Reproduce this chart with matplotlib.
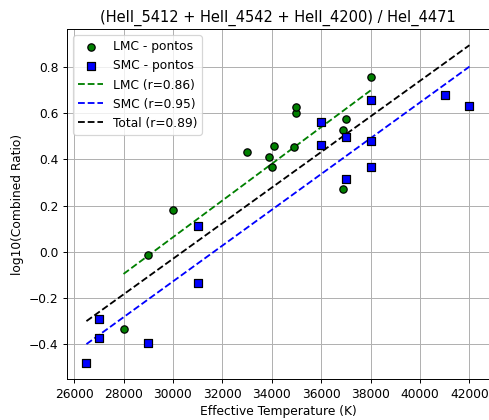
import matplotlib
matplotlib.use("Agg")
import matplotlib.pyplot as plt
import numpy as np

# LMC points (Teff, log10 ratio)
lmc_teff = [28000, 29000, 30000, 33000, 33900, 34000, 34100, 34900, 35000, 35000,
            36900, 36900, 37000, 38000]
lmc_ratio = [-0.336, -0.015, 0.182, 0.433, 0.410, 0.366, 0.460, 0.453, 0.600, 0.626,
             0.271, 0.528, 0.576, 0.755]

# SMC points
smc_teff = [26500, 27000, 27000, 29000, 31000, 31000, 36000, 36000, 37000, 37000,
            38000, 38000, 38000, 41000, 42000]
smc_ratio = [-0.482, -0.375, -0.290, -0.397, 0.111, -0.137, 0.563, 0.461, 0.495, 0.314,
             0.659, 0.480, 0.366, 0.677, 0.630]

title = "(HeII_5412 + HeII_4542 + HeII_4200) / HeI_4471"

fig = plt.figure(figsize=(489 / 88, 420 / 88), dpi=88)
ax = fig.add_axes([0.1376, 0.0976, 0.8616, 0.8326])

ax.scatter(lmc_teff, lmc_ratio, color='green', edgecolor='black', label='LMC - pontos', zorder=3)
ax.scatter(smc_teff, smc_ratio, color='blue', marker='s', edgecolor='black', label='SMC - pontos', zorder=3)

def fit_line(x, y):
    x = np.array(x, dtype=float)
    y = np.array(y, dtype=float)
    m, b = np.polyfit(x, y, 1)
    xs = np.array([x.min(), x.max()])
    return xs, m * xs + b

xl, yl = fit_line(lmc_teff, lmc_ratio)
xs, ys = fit_line(smc_teff, smc_ratio)
xt, yt = fit_line(lmc_teff + smc_teff, lmc_ratio + smc_ratio)

ax.plot(xl, yl, 'g--', label='LMC (r=0.86)')
ax.plot(xs, ys, 'b--', label='SMC (r=0.95)')
ax.plot(xt, yt, 'k--', label='Total (r=0.89)')

ax.set_title(title)
ax.set_xlabel("Effective Temperature (K)")
ax.set_ylabel("log10(Combined Ratio)")
ax.grid(True)
ax.legend(loc='upper left')

fig.savefig("out.png", dpi=88)
